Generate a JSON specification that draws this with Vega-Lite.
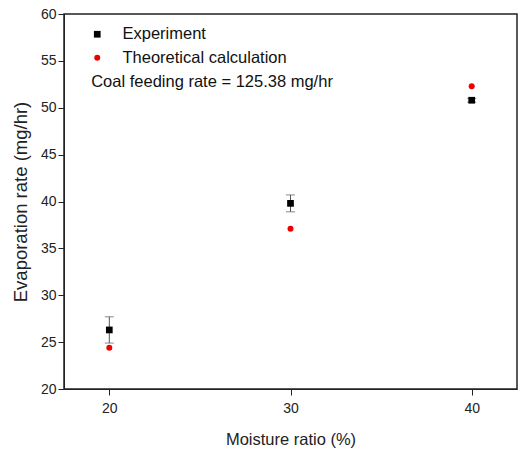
{
  "$schema": "https://vega.github.io/schema/vega-lite/v6.json",
  "width": 453,
  "height": 375,
  "autosize": {"type": "none"},
  "padding": {"left": 64, "top": 14, "right": 3, "bottom": 63},
  "background": "white",
  "config": {
    "font": "Liberation Sans",
    "view": {"stroke": "#222", "strokeWidth": 1.5},
    "axis": {
      "grid": false,
      "domainColor": "#222",
      "tickColor": "#222",
      "labelColor": "#222",
      "titleColor": "#222",
      "labelFontSize": 14,
      "titleFontSize": 16.5,
      "titleFontWeight": "normal",
      "labelFont": "Liberation Sans",
      "titleFont": "Liberation Sans"
    }
  },
  "datasets": {
    "pts": [
      {"moisture": 20, "rate": 26.3, "series": "Experiment"},
      {"moisture": 30, "rate": 39.8, "series": "Experiment"},
      {"moisture": 40, "rate": 50.8, "series": "Experiment"},
      {"moisture": 20, "rate": 24.4, "series": "Theoretical calculation"},
      {"moisture": 30, "rate": 37.1, "series": "Theoretical calculation"},
      {"moisture": 40, "rate": 52.3, "series": "Theoretical calculation"}
    ],
    "err": [
      {"moisture": 20, "low": 24.9, "high": 27.7},
      {"moisture": 30, "low": 38.9, "high": 40.7},
      {"moisture": 40, "low": 50.6, "high": 51.0}
    ],
    "note": [
      {"x": 19.0, "y": 52.7, "label": "Coal feeding rate = 125.38 mg/hr"}
    ]
  },
  "layer": [
    {
      "data": {"name": "err"},
      "mark": {"type": "errorbar", "color": "#555", "thickness": 1, "ticks": {"size": 9, "color": "#555", "thickness": 1}},
      "encoding": {
        "x": {"field": "moisture", "type": "quantitative",
          "scale": {"domain": [17.5, 42.5], "nice": false, "zero": false},
          "axis": {"values": [20, 30, 40], "title": "Moisture ratio (%)", "tickSize": 6, "labelPadding": 6, "titlePadding": 16}},
        "y": {"field": "low", "type": "quantitative",
          "scale": {"domain": [20, 60], "nice": false, "zero": false},
          "axis": {"values": [20, 22.5, 25, 27.5, 30, 32.5, 35, 37.5, 40, 42.5, 45, 47.5, 50, 52.5, 55, 57.5, 60],
            "labelExpr": "datum.value % 5 === 0 ? datum.label : ''",
            "tickSize": {"condition": {"test": "datum.value % 5 !== 0", "value": 3}, "value": 6},
            "title": "Evaporation rate (mg/hr)", "titleFontSize": 18.5, "labelPadding": 2, "titlePadding": 10}},
        "y2": {"field": "high"}
      }
    },
    {
      "data": {"name": "pts"},
      "mark": {"type": "point", "filled": true, "opacity": 1},
      "encoding": {
        "x": {"field": "moisture", "type": "quantitative"},
        "y": {"field": "rate", "type": "quantitative"},
        "color": {"field": "series", "type": "nominal",
          "scale": {"domain": ["Experiment", "Theoretical calculation"], "range": ["#000000", "#ee0000"]},
          "legend": {"orient": "none", "legendX": 25, "legendY": 12, "title": null,
            "labelFontSize": 16.5, "labelFont": "Liberation Sans", "labelColor": "#111", "labelOffset": 17,
            "labelLimit": 400, "rowPadding": 6.5, "symbolStrokeWidth": 0}},
        "shape": {"field": "series", "type": "nominal",
          "scale": {"domain": ["Experiment", "Theoretical calculation"], "range": ["square", "circle"]}},
        "size": {"field": "series", "type": "nominal",
          "scale": {"domain": ["Experiment", "Theoretical calculation"], "range": [45, 36]}, "legend": null}
      }
    },
    {
      "data": {"name": "note"},
      "mark": {"type": "text", "align": "left", "baseline": "middle", "fontSize": 16.5, "font": "Liberation Sans", "color": "#111"},
      "encoding": {
        "x": {"field": "x", "type": "quantitative"},
        "y": {"field": "y", "type": "quantitative"},
        "text": {"field": "label"}
      }
    }
  ]
}
